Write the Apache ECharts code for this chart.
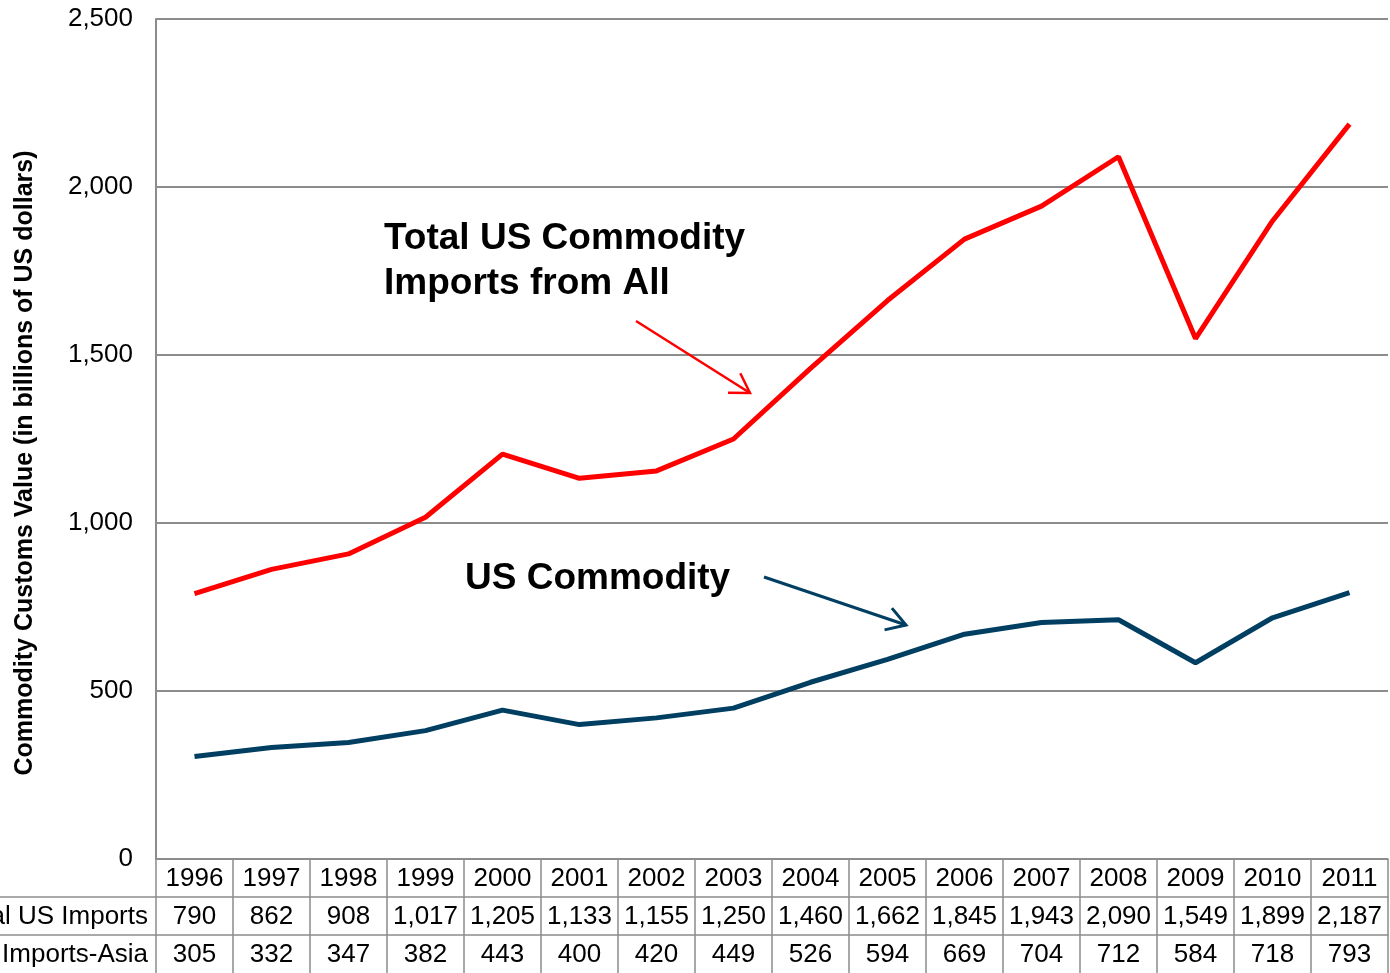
<!DOCTYPE html>
<html>
<head>
<meta charset="utf-8">
<script src="https://cdn.jsdelivr.net/npm/echarts@6/dist/echarts.min.js"></script>
<style>
  html, body { margin: 0; padding: 0; background: #fff; }
  #chart { width: 1390px; height: 973px; }
</style>
</head>
<body>
<div id="chart"></div>
<script>
const years = ["1996", "1997", "1998", "1999", "2000", "2001", "2002", "2003",
  "2004", "2005", "2006", "2007", "2008", "2009", "2010", "2011"];
const totalImports = [790, 862, 908, 1017, 1205, 1133, 1155, 1250, 1460, 1662, 1845, 1943, 2090, 1549, 1899, 2187];
const asiaImports = [305, 332, 347, 382, 443, 400, 420, 449, 526, 594, 669, 704, 712, 584, 718, 793];
const rowLabels = ["Total US Imports", "US Imports-Asia"];
const yTicks = { min: 0, max: 2500, interval: 500 };

const fmt = (v) => v.toLocaleString("en-US");
const font = "Arial, 'Liberation Sans', sans-serif";
const gridColor = "#8c8c8c";
const red = "#ff0000";
const blue = "#003f62";

const plot = { left: 156, right: 2, top: 19, bottom: 114 };
const rowH = 38;

const chart = echarts.init(document.getElementById("chart"));

const tableLabel = {
  interval: 0,
  margin: 20,
  verticalAlign: "middle",
  color: "#000",
  fontSize: 26,
  fontFamily: font,
};

const tableAxis = (values, offset) => ({
  type: "category",
  data: values.map(fmt),
  position: "bottom",
  offset: offset,
  axisLine: { show: true, lineStyle: { color: gridColor, width: 1.5 } },
  axisTick: { show: false },
  axisLabel: tableLabel,
});

chart.setOption({
  animation: false,
  backgroundColor: "#fff",
  grid: plot,
  xAxis: [
    {
      type: "category",
      data: years,
      axisLine: { lineStyle: { color: gridColor, width: 1.5 } },
      axisTick: {
        show: true,
        length: 114,
        lineStyle: { color: gridColor, width: 1.5 },
      },
      axisLabel: tableLabel,
    },
    tableAxis(totalImports, rowH),
    tableAxis(asiaImports, rowH * 2),
  ],
  yAxis: {
    type: "value",
    min: yTicks.min,
    max: yTicks.max,
    interval: yTicks.interval,
    axisLine: { show: true, lineStyle: { color: gridColor, width: 2 } },
    axisTick: { show: false },
    axisLabel: {
      margin: 23,
      color: "#000",
      fontSize: 26,
      fontFamily: font,
      formatter: (v) => fmt(v),
    },
    splitLine: { lineStyle: { color: gridColor, width: 2 } },
  },
  series: [
    {
      name: "Total US Commodity Imports from All",
      type: "line",
      data: totalImports,
      showSymbol: false,
      lineStyle: { color: red, width: 5 },
      itemStyle: { color: red },
    },
    {
      name: "US Commodity Imports-Asia",
      type: "line",
      data: asiaImports,
      showSymbol: false,
      lineStyle: { color: blue, width: 5 },
      itemStyle: { color: blue },
    },
  ],
});

// table row labels, the extra row lines and annotations
const axisY = 973 - plot.bottom;
const arrow = (x1, y1, x2, y2, color, w) => {
  const ang = Math.atan2(y2 - y1, x2 - x1);
  const len = 22, spread = 0.55;
  return [
    { type: "line", shape: { x1, y1, x2, y2 }, style: { stroke: color, lineWidth: w } },
    {
      type: "polyline",
      shape: {
        points: [
          [x2 - len * Math.cos(ang - spread), y2 - len * Math.sin(ang - spread)],
          [x2, y2],
          [x2 - len * Math.cos(ang + spread), y2 - len * Math.sin(ang + spread)],
        ],
      },
      style: { stroke: color, lineWidth: w, fill: null },
    },
  ];
};

chart.setOption({
  graphic: [
    { type: "line", shape: { x1: 0, y1: axisY + rowH, x2: plot.left, y2: axisY + rowH },
      style: { stroke: gridColor, lineWidth: 1.5 } },
    { type: "line", shape: { x1: 0, y1: axisY + rowH * 2, x2: plot.left, y2: axisY + rowH * 2 },
      style: { stroke: gridColor, lineWidth: 1.5 } },
    ...rowLabels.map((t, i) => ({
      type: "text",
      x: 148,
      y: axisY + rowH * (i + 1.5) + 1,
      style: { text: t, font: "26px " + font, fill: "#000", align: "right", verticalAlign: "middle" },
    })),
    {
      type: "text",
      x: 25,
      y: 463,
      rotation: Math.PI / 2,
      style: {
        text: "Commodity Customs Value (in billions of US dollars)",
        font: "bold 25px " + font,
        fill: "#000",
        align: "center",
        verticalAlign: "middle",
      },
    },
    {
      type: "text",
      x: 384,
      y: 216,
      style: {
        text: "Total US Commodity\nImports from All",
        font: "bold 37px " + font,
        lineHeight: 45,
        fill: "#000",
        align: "left",
        verticalAlign: "top",
      },
    },
    {
      type: "text",
      x: 465,
      y: 579,
      style: {
        text: "US Commodity",
        font: "bold 37px " + font,
        fill: "#000",
        align: "left",
        verticalAlign: "middle",
      },
    },
    ...arrow(636, 321, 750, 393, red, 2.5),
    ...arrow(764, 577, 906, 625, blue, 3),
  ],
});
</script>
</body>
</html>
